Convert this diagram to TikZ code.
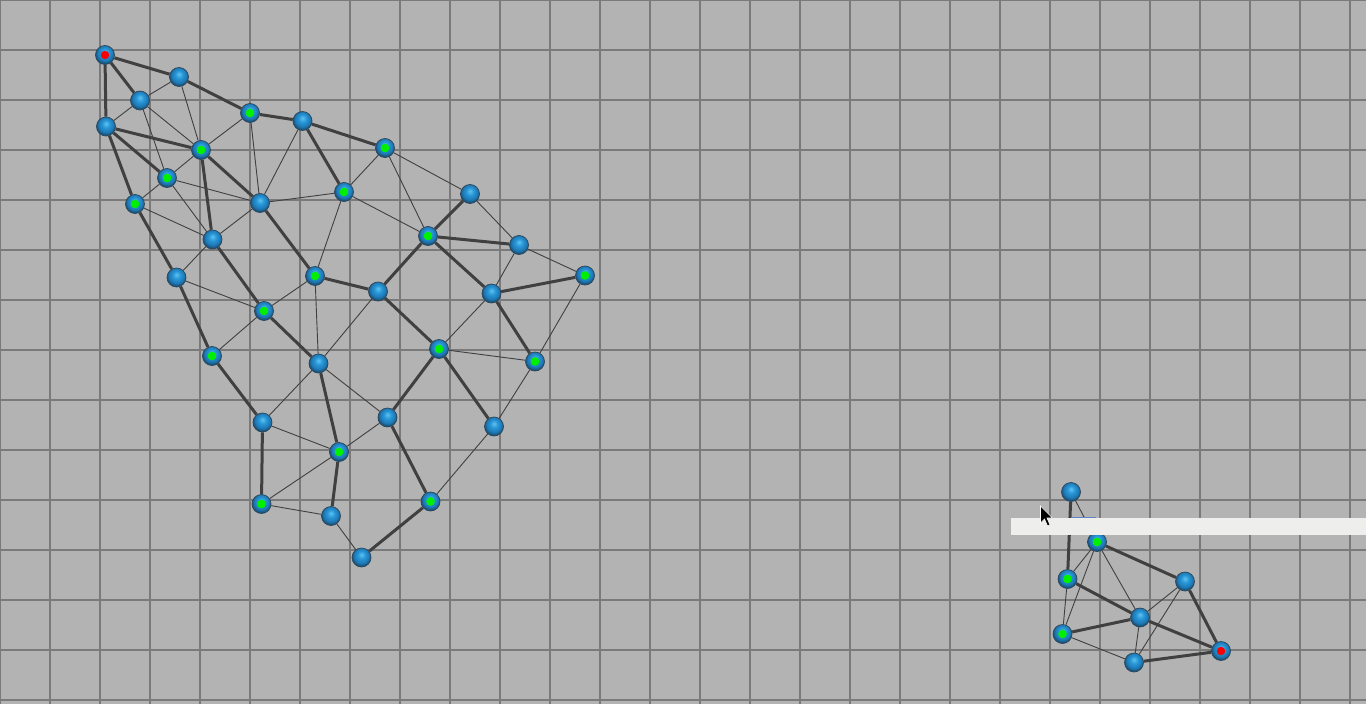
\documentclass[tikz,border=0pt]{standalone}
\usetikzlibrary{backgrounds}
\definecolor{bgc}{RGB}{179,179,179}
\definecolor{gridc}{RGB}{122,122,122}
\definecolor{edgec}{RGB}{64,64,64}
\definecolor{sphA}{RGB}{95,195,240}
\definecolor{sphB}{RGB}{40,150,215}
\definecolor{sphC}{RGB}{30,120,180}
\definecolor{sphD}{RGB}{25,85,125}
\definecolor{rimc}{RGB}{45,70,90}
\definecolor{greenc}{RGB}{0,240,0}
\definecolor{redc}{RGB}{250,0,0}
\definecolor{barc}{RGB}{238,238,236}
\definecolor{barline}{RGB}{100,130,200}
\pgfdeclareradialshading{bluesphere}{\pgfqpoint{0bp}{8bp}}{color(0bp)=(sphA); color(10bp)=(sphB); color(20bp)=(sphC); color(25bp)=(sphD); color(50bp)=(sphD)}
\tikzset{
  vtx/.style={circle, minimum size=19pt, inner sep=0pt, shading=bluesphere, draw=rimc, line width=0.7pt},
  gvtx/.style={vtx, path picture={\fill[greenc] (path picture bounding box.center) circle[radius=4.3pt];}},
  rvtx/.style={vtx, path picture={\fill[redc] (path picture bounding box.center) circle[radius=4.2pt];}},
  thk/.style={draw=edgec, line width=3pt},
  thn/.style={draw=edgec, line width=0.9pt},
  gridln/.style={draw=gridc, line width=1.5pt}
}
\begin{document}
\begin{tikzpicture}[x=1pt,y=-1pt]
\useasboundingbox (0,0) rectangle (1366,704);
% main graph nodes
\node[rvtx] (a1) at (105,55) {};
\node[vtx]  (a2) at (179,77) {};
\node[vtx]  (a3) at (140,100.5) {};
\node[vtx]  (a4) at (106,126.5) {};
\node[gvtx] (a5) at (250,113) {};
\node[vtx]  (a6) at (302.5,121) {};
\node[gvtx] (a7) at (201,150) {};
\node[gvtx] (a8) at (385,148) {};
\node[gvtx] (a9) at (167,178) {};
\node[gvtx] (a10) at (135,204) {};
\node[vtx]  (a11) at (260,203) {};
\node[gvtx] (a12) at (344,192) {};
\node[vtx]  (a13) at (470,194) {};
\node[vtx]  (a14) at (212.5,239.5) {};
\node[gvtx] (a15) at (428,236) {};
\node[vtx]  (a16) at (519,245) {};
\node[vtx]  (a17) at (176.5,277.5) {};
\node[gvtx] (a18) at (315,276) {};
\node[vtx]  (a19) at (378,291.5) {};
\node[vtx]  (a20) at (491.5,293.5) {};
\node[gvtx] (a21) at (585,275.5) {};
\node[gvtx] (a22) at (264,311) {};
\node[gvtx] (a23) at (439,349) {};
\node[gvtx] (a24) at (212,356) {};
\node[vtx]  (a25) at (318.5,363.5) {};
\node[gvtx] (a26) at (535,361.5) {};
\node[vtx]  (a27) at (262.5,422.5) {};
\node[vtx]  (a28) at (387.5,417.5) {};
\node[vtx]  (a29) at (494,426.5) {};
\node[gvtx] (a30) at (339,452) {};
\node[gvtx] (a31) at (261.5,504) {};
\node[vtx]  (a32) at (331,516) {};
\node[gvtx] (a33) at (430.5,501.5) {};
\node[vtx]  (a34) at (361.5,557.5) {};
% small graph nodes
\node[vtx]  (s1) at (1071,492) {};
\node[gvtx] (s2) at (1097,542) {};
\node[gvtx] (s3) at (1067.5,579) {};
\node[vtx]  (s4) at (1185,581.5) {};
\node[vtx]  (s5) at (1140,617.5) {};
\node[gvtx] (s6) at (1062.5,634) {};
\node[vtx]  (s7) at (1134,662.5) {};
\node[rvtx] (s8) at (1221,651) {};
\begin{scope}[on background layer]
\fill[bgc] (0,0) rectangle (1366,704);
\foreach \gx in {0,50,...,1350} \draw[gridln] (\gx,0) -- (\gx,704);
\foreach \gy in {0,50,...,700} \draw[gridln] (0,\gy) -- (1366,\gy);
% thick edges
\foreach \p/\q in {a1/a2,a1/a3,a1/a4,a2/a5,a4/a7,a4/a9,a4/a10,a5/a6,a6/a8,a6/a12,a7/a11,a7/a14,a10/a17,a14/a22,a11/a18,a17/a24,a18/a19,a13/a15,a15/a16,a15/a19,a15/a20,a20/a21,a19/a23,a20/a26,a22/a25,a24/a27,a25/a30,a23/a28,a23/a29,a27/a31,a28/a33,a30/a32,a33/a34,
  s1/s3,s2/s4,s3/s5,s5/s6,s5/s8,s4/s8,s7/s8}
  \draw[thk] (\p) -- (\q);
% thin edges
\foreach \p/\q in {a2/a3,a2/a7,a3/a4,a3/a7,a3/a9,a5/a7,a5/a11,a6/a11,a7/a9,a9/a10,a9/a11,a9/a14,a10/a14,a14/a11,a14/a17,a8/a12,a8/a13,a8/a15,a11/a12,a12/a15,a12/a18,a13/a16,a16/a20,a16/a21,a17/a22,a18/a22,a18/a25,a19/a25,a22/a24,a20/a23,a23/a26,a21/a26,a26/a29,a25/a27,a25/a28,a27/a30,a28/a30,a29/a33,a30/a31,a31/a32,a32/a34,
  s1/s2,s2/s3,s2/s5,s2/s6,s3/s6,s4/s5,s4/s7,s5/s7,s6/s7}
  \draw[thn] (\p) -- (\q);
\end{scope}
% tooltip bar
\fill[barc] (1011,518) rectangle (1366,534.5);
\draw[barline, line width=0.8pt] (1072,517.8) -- (1096,517.8);
% mouse cursor
\coordinate (tip) at (1040.5,506);
\filldraw[fill=black, draw=white, line width=0.6pt, line join=miter]
  (tip) -- ++(0,17) -- ++(4,-4) -- ++(3,7) -- ++(2.5,-1) -- ++(-3,-7) -- ++(5.5,0) -- cycle;
\end{tikzpicture}
\end{document}
